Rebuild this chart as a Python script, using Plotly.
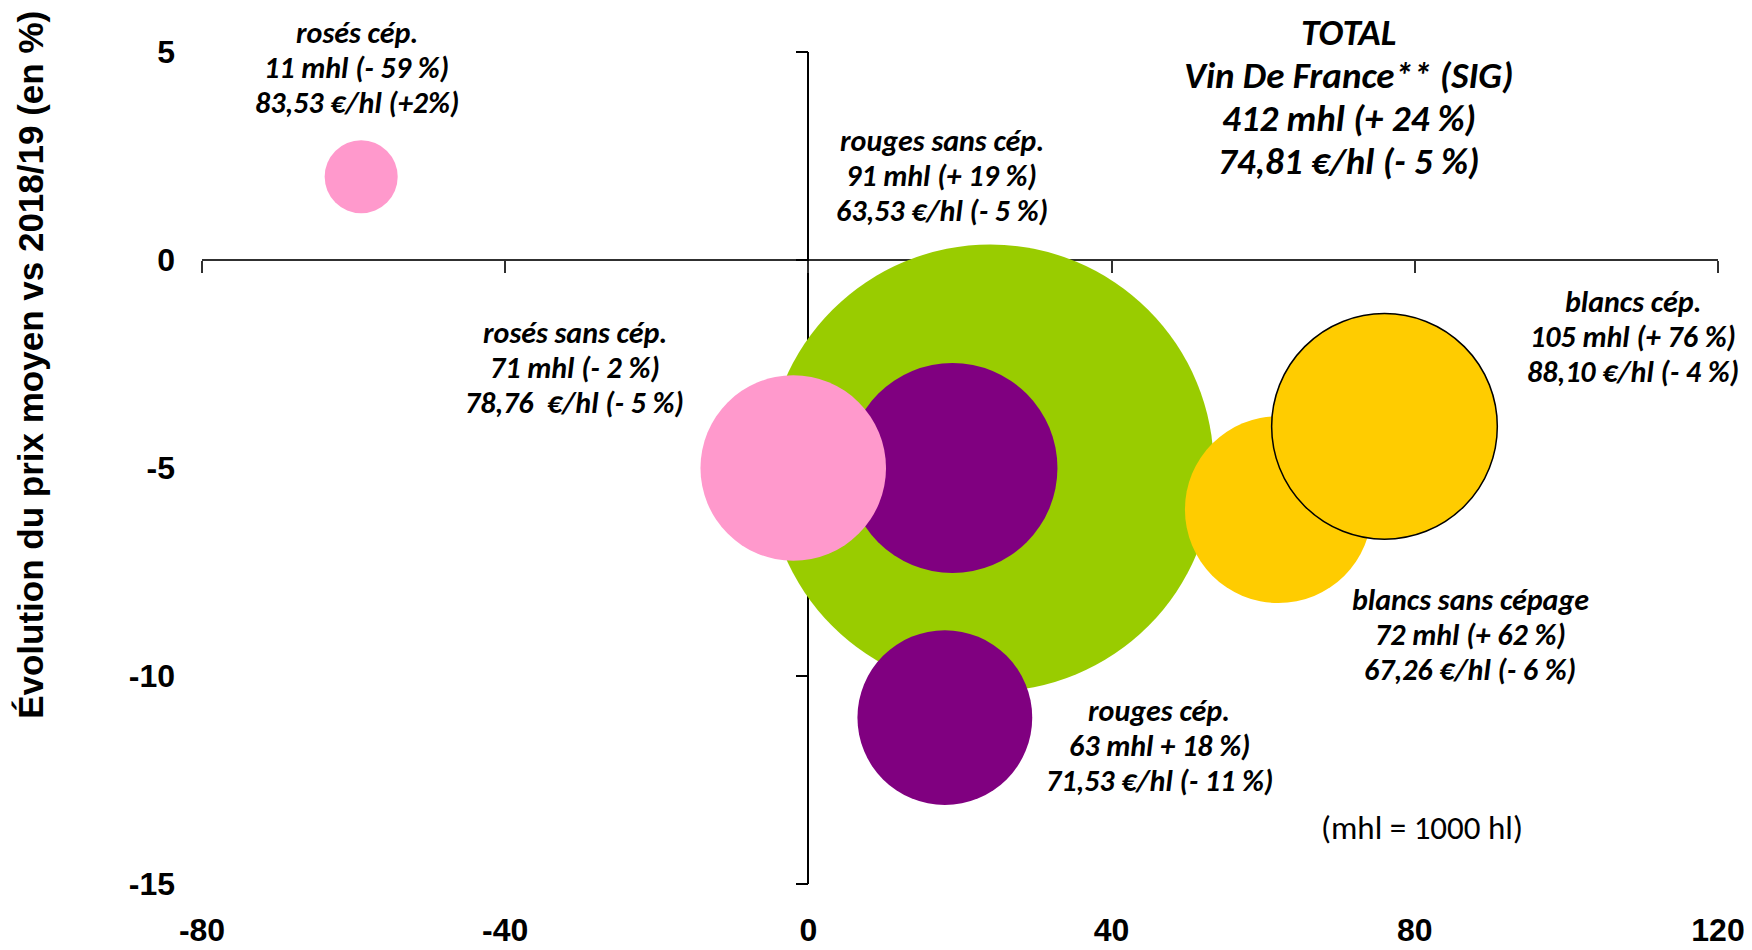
import plotly.graph_objects as go

# ---- data ----
categories = ["TOTAL Vin De France** (SIG)", "rouges sans cép.", "rosés sans cép.",
              "rouges cép.", "blancs sans cépage", "blancs cép.", "rosés cép."]
volume_change = [24, 19, -2, 18, 62, 76, -59]      # x : évolution volume (%)
price_change = [-5, -5, -5, -11, -6, -4, 2]        # y : évolution prix moyen (%)
volumes_mhl = [412, 91, 71, 63, 72, 105, 11]       # bubble size
colors = ["#99CC00", "#800080", "#FF99CC", "#800080", "#FFCC00", "#FFCC00", "#FF99CC"]
outline_width = [0, 0, 0, 0, 0, 1.5, 0]

x_ticks = [-80, -40, 0, 40, 80, 120]
y_ticks = [-15, -10, -5, 0, 5]

label_lines = [
    ["TOTAL", "Vin De France** (SIG)", "412 mhl (+ 24 %)", "74,81 €/hl (- 5 %)"],
    ["rouges sans cép.", "91 mhl (+ 19 %)", "63,53 €/hl (- 5 %)"],
    ["rosés sans cép.", "71 mhl (- 2 %)", "78,76  €/hl (- 5 %)"],
    ["rouges cép.", "63 mhl + 18 %)", "71,53 €/hl (- 11 %)"],
    ["blancs sans cépage", "72 mhl (+ 62 %)", "67,26 €/hl (- 6 %)"],
    ["blancs cép.", "105 mhl (+ 76 %)", "88,10 €/hl (- 4 %)"],
    ["rosés cép.", "11 mhl (- 59 %)", "83,53 €/hl (+2%)"],
]
label_x = [71.3, 17.6, -30.8, 46.3, 87.3, 108.8, -59.6]
label_y = [3.93, 2.02, -2.59, -11.68, -9.01, -1.84, 4.62]
label_size = [37, 30, 30, 30, 30, 30, 30]
label_spacing = [43, 35, 35, 35, 35, 35, 35]

note_text = "(mhl = 1000 hl)"
y_title = "Évolution du prix moyen vs 2018/19 (en %)"

X_RANGE = [-80, 120]
Y_RANGE = [-15, 5]
MAX_DIAM = 447  # px diameter of the largest bubble

fig = go.Figure()
sizeref = 2.0 * max(volumes_mhl) / (MAX_DIAM ** 2)
for i, cat in enumerate(categories):
    fig.add_trace(go.Scatter(
        x=[volume_change[i]], y=[price_change[i]], mode="markers", name=cat,
        marker=dict(size=[volumes_mhl[i]], sizemode="area", sizeref=sizeref,
                    color=colors[i], opacity=1,
                    line=dict(width=outline_width[i], color="black")),
        showlegend=False, hoverinfo="name",
    ))

# dummy trace for the crossing axes
fig.add_trace(go.Scatter(x=[None], y=[None], xaxis="x2", yaxis="y2",
                         showlegend=False, hoverinfo="skip"))

label_font = "Carlito, Lato, 'Open Sans', sans-serif"
for lines, lx, ly, fs, sp in zip(label_lines, label_x, label_y, label_size, label_spacing):
    n = len(lines)
    for k, line in enumerate(lines):
        fig.add_annotation(x=lx, y=ly, xref="x", yref="y", text="<i><b>" + line + "</b></i>",
                           showarrow=False, xanchor="center", yanchor="middle", align="center",
                           yshift=((n - 1) / 2 - k) * sp,
                           font=dict(family=label_font, size=fs, color="black"))

fig.add_annotation(x=80.9, y=-13.65, xref="x", yref="y", text=note_text, showarrow=False,
                   xanchor="center", yanchor="middle",
                   font=dict(family=label_font, size=33, color="black"))

fig.add_annotation(x=-0.1128, y=0.624, xref="paper", yref="paper", text="<b>" + y_title + "</b>",
                   showarrow=False, textangle=-90, xanchor="center", yanchor="middle",
                   font=dict(family="Liberation Sans, Arial, sans-serif", size=35, color="black"))

tick_font = dict(family="Liberation Sans, Arial, sans-serif", size=32, color="black", weight="bold")

# page body has an 8px default margin: compensate so the plot area lands at the target pixels
fig.update_layout(
    width=1752, height=950,
    margin=dict(l=194, r=42, t=44, b=74, autoexpand=False),
    paper_bgcolor="white", plot_bgcolor="white",
    font=dict(family="Liberation Sans, Arial, sans-serif"),
    xaxis=dict(range=X_RANGE, tickvals=x_ticks, ticktext=[str(v) for v in x_ticks],
               showgrid=False, zeroline=False, showline=False, ticks="",
               tickfont=tick_font, ticklabelstandoff=24, automargin=False, fixedrange=True),
    yaxis=dict(range=Y_RANGE, tickvals=y_ticks, ticktext=[str(v) for v in y_ticks],
               showgrid=False, zeroline=False, showline=False, ticks="",
               tickfont=tick_font, ticklabelstandoff=26, automargin=False, fixedrange=True),
    xaxis2=dict(range=X_RANGE, overlaying="x", anchor="free", position=0.75, side="bottom",
                tickvals=x_ticks, showticklabels=False, showgrid=False, zeroline=False,
                showline=True, linecolor="#303030", linewidth=2,
                ticks="outside", ticklen=12, tickwidth=1.5, tickcolor="#303030",
                layer="below traces", automargin=False, fixedrange=True),
    yaxis2=dict(range=Y_RANGE, overlaying="y", anchor="free", position=0.4, side="left",
                tickvals=y_ticks, showticklabels=False, showgrid=False, zeroline=False,
                showline=True, linecolor="black", linewidth=1.5,
                ticks="outside", ticklen=12, tickwidth=1.5, tickcolor="black",
                layer="below traces", automargin=False, fixedrange=True),
)

fig.write_html("out.html")
